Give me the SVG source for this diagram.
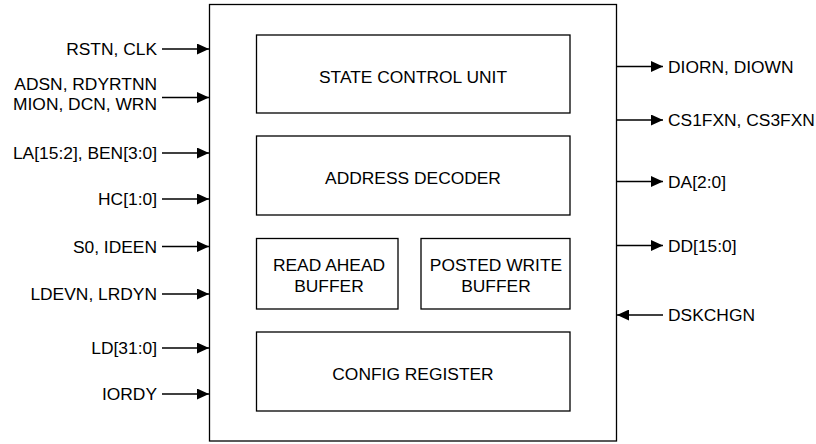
<svg xmlns="http://www.w3.org/2000/svg" width="816" height="444" viewBox="0 0 816 444">
<style>
.box{fill:#fff;stroke:#000;stroke-width:1.3}
.t{font-family:"Liberation Sans",Arial,sans-serif;font-size:17.4px;fill:#000}
.c{text-anchor:middle}
.r{text-anchor:end}
.w{stroke:#000;stroke-width:1.3;fill:none}
</style>
<defs>
<marker id="ah" markerWidth="12" markerHeight="11" refX="12" refY="5.5" orient="auto" markerUnits="userSpaceOnUse">
<path d="M0,0 L12,5.5 L0,11 Z" fill="#000"/>
</marker>
</defs>
<rect width="816" height="444" fill="#fff"/>
<g id="main"><rect class="box" x="209.5" y="4.5" width="407" height="436.5"/></g>
<g id="state_control_unit"><rect class="box" x="256.5" y="35" width="313.5" height="78"/><text class="t c" x="413" y="83">STATE CONTROL UNIT</text></g>
<g id="address_decoder"><rect class="box" x="256.5" y="136" width="313.5" height="79"/><text class="t c" x="413" y="184">ADDRESS DECODER</text></g>
<g id="read_ahead_buffer"><rect class="box" x="256.5" y="238.5" width="141.5" height="70.5"/><text class="t c" x="329" y="271">READ AHEAD</text><text class="t c" x="329" y="292">BUFFER</text></g>
<g id="posted_write_buffer"><rect class="box" x="421" y="238.5" width="149" height="70.5"/><text class="t c" x="496" y="271">POSTED WRITE</text><text class="t c" x="496" y="292">BUFFER</text></g>
<g id="config_register"><rect class="box" x="256.5" y="332" width="313.5" height="79"/><text class="t c" x="413" y="380">CONFIG REGISTER</text></g>
<g id="labels">
<text class="t r" x="157" y="55">RSTN, CLK</text>
<text class="t r" x="157" y="90">ADSN, RDYRTNN</text>
<text class="t r" x="157" y="110">MION, DCN, WRN</text>
<text class="t r" x="157" y="159">LA[15:2], BEN[3:0]</text>
<text class="t r" x="157" y="205">HC[1:0]</text>
<text class="t r" x="157" y="253">S0, IDEEN</text>
<text class="t r" x="157" y="300">LDEVN, LRDYN</text>
<text class="t r" x="157" y="354">LD[31:0]</text>
<text class="t r" x="157" y="400">IORDY</text>
<text class="t" x="668" y="73">DIORN, DIOWN</text>
<text class="t" x="668" y="126">CS1FXN, CS3FXN</text>
<text class="t" x="668" y="188">DA[2:0]</text>
<text class="t" x="668" y="252">DD[15:0]</text>
<text class="t" x="668" y="321">DSKCHGN</text>
</g>
<g id="connectors">
<line class="w" x1="162" y1="49" x2="209" y2="49" marker-end="url(#ah)"/>
<line class="w" x1="162" y1="97.5" x2="209" y2="97.5" marker-end="url(#ah)"/>
<line class="w" x1="162" y1="153" x2="209" y2="153" marker-end="url(#ah)"/>
<line class="w" x1="162" y1="199" x2="209" y2="199" marker-end="url(#ah)"/>
<line class="w" x1="162" y1="246.5" x2="209" y2="246.5" marker-end="url(#ah)"/>
<line class="w" x1="162" y1="294" x2="209" y2="294" marker-end="url(#ah)"/>
<line class="w" x1="162" y1="348" x2="209" y2="348" marker-end="url(#ah)"/>
<line class="w" x1="162" y1="394" x2="209" y2="394" marker-end="url(#ah)"/>
<line class="w" x1="617" y1="66.5" x2="663" y2="66.5" marker-end="url(#ah)"/>
<line class="w" x1="617" y1="120" x2="663" y2="120" marker-end="url(#ah)"/>
<line class="w" x1="617" y1="181.5" x2="663" y2="181.5" marker-end="url(#ah)"/>
<line class="w" x1="617" y1="245.5" x2="663" y2="245.5" marker-end="url(#ah)"/>
<line class="w" x1="663" y1="315" x2="617" y2="315" marker-end="url(#ah)"/>
</g>
</svg>
